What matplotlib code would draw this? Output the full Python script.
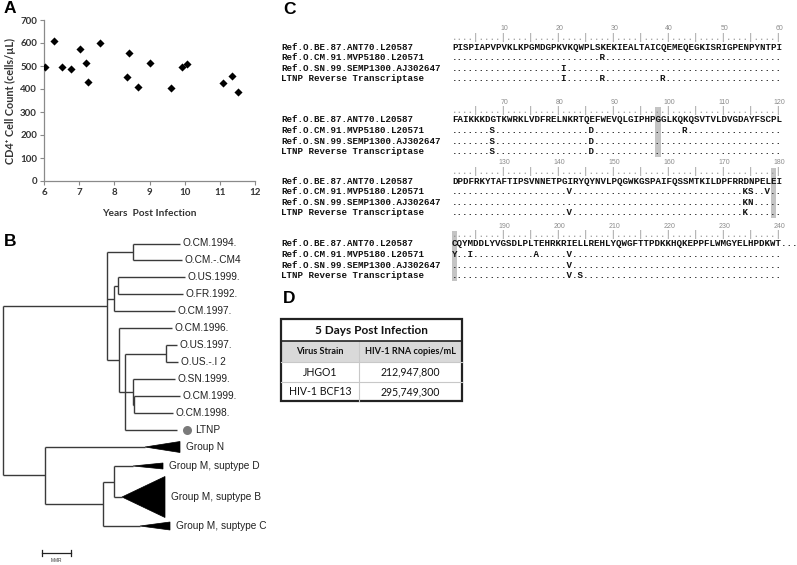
import matplotlib
matplotlib.use("Agg")
import matplotlib.pyplot as plt
from matplotlib.patches import Polygon, Rectangle

# ---------------- data ----------------
# Panel A
years = [6.03, 6.28, 6.52, 6.77, 7.02, 7.19, 7.24, 7.60, 8.35, 8.43, 8.68,
         9.01, 9.60, 9.92, 10.08, 11.08, 11.34, 11.51]
cd4 = [496, 610, 496, 487, 572, 513, 429, 600, 452, 555, 409,
       513, 404, 496, 507, 426, 455, 387]
x_ticks = [6, 7, 8, 9, 10, 11, 12]
y_ticks = [0, 100, 200, 300, 400, 500, 600, 700]

# Panel B: tree (node depths in branch-length units)
tree = ("n", 0, [
    ("n", 104, [
        ("n", 130, [("l", "O.CM.1994.", 177, 0), ("l", "O.CM.-.CM4", 179, 1)]),
        ("n", 111, [
            ("n", 115, [("l", "O.US.1999.", 182, 2), ("l", "O.FR.1992.", 180, 3)]),
            ("l", "O.CM.1997.", 172, 4)]),
        ("n", 116, [
            ("l", "O.CM.1996.", 169, 5),
            ("n", 122, [
                ("n", 163, [("l", "O.US.1997.", 174, 6), ("l", "O.US.-.I 2", 175, 7)]),
                ("n", 130, [("l", "O.SN.1999.", 172, 8),
                            ("n", 131, [("l", "O.CM.1999.", 177, 9),
                                        ("l", "O.CM.1998.", 170, 10)])]),
                ("l", "LTNP", 174, 11)])])]),
    ("n", 42, [
        ("c", "Group N", 142, 177, 447, 11),
        ("n", 100, [
            ("n", 111, [("c", "Group M, suptype D", 130, 160, 466, 6),
                        ("c", "Group M, suptype B", 119, 162, 497, 41)]),
            ("c", "Group M, suptype C", 137, 167, 526, 8)])])])
marked_leaves = {"LTNP": "#7a7a7a"}
scale_label = "MMR"

# Panel C: alignment
seq_names = ["Ref.O.BE.87.ANT70.L20587", "Ref.O.CM.91.MVP5180.L20571",
             "Ref.O.SN.99.SEMP1300.AJ302647", "LTNP Reverse Transcriptase"]
ref_blocks = ["PISPIAPVPVKLKPGMDGPKVKQWPLSKEKIEALTAICQEMEQEGKISRIGPENPYNTPI",
              "FAIKKKDGTKWRKLVDFRELNKRTQEFWEVQLGIPHPGGLKQKQSVTVLDVGDAYFSCPL",
              "DPDFRKYTAFTIPSVNNETPGIRYQYNVLPQGWKGSPAIFQSSMTKILDPFRRDNPELEI",
              "CQYMDDLYVGSDLPLTEHRKRIELLREHLYQWGFTTPDKKHQKEPPFLWMGYELHPDKWT"]
variants = [
    {28: "R", 68: "S", 86: "D", 103: "R", 142: "V", 174: "K", 175: "S", 178: "V",
     181: "Y", 184: "I", 196: "A", 202: "V"},
    {21: "I", 68: "S", 86: "D", 174: "K", 175: "N", 202: "V"},
    {21: "I", 28: "R", 39: "R", 68: "S", 86: "D", 142: "V", 174: "K", 202: "V", 204: "S"},
]
highlight_pos = [98, 179, 181]

# Panel D: table
table_title = "5 Days Post Infection"
table_header = ["Virus Strain", "HIV-1 RNA copies/mL"]
table_rows = [["JHGO1", "212,947,800"], ["HIV-1 BCF13", "295,749,300"]]

# ---------------- figure ----------------
W, H = 797, 565
plt.rcParams['font.family'] = ['Lato', 'DejaVu Sans']
fig = plt.figure(figsize=(W / 100, H / 100), dpi=100)

# Panel A
axA = fig.add_axes([44 / W, 1 - 181 / H, (255 - 44) / W, (181 - 20) / H])
axA.scatter(years, cd4, marker='D', s=17, c='black', zorder=3, linewidths=0)
axA.set_xlim(6, 12)
axA.set_ylim(0, 700)
axA.set_xticks(x_ticks, [str(v) for v in x_ticks], fontweight='bold')
axA.set_yticks(y_ticks, [str(v) for v in y_ticks], fontweight='bold')
for s in ['top', 'right']:
    axA.spines[s].set_visible(False)
for s in ['left', 'bottom']:
    axA.spines[s].set_color('#8a8a8a')
    axA.spines[s].set_linewidth(0.9)
axA.tick_params(direction='out', length=3, width=0.8, color='#8a8a8a',
                labelsize=7, labelcolor='#333333', pad=2)
axA.set_xlabel("Years  Post Infection", fontsize=7.3, fontweight='bold',
               color='#333333', labelpad=9)
axA.set_ylabel("CD4\u207a Cell Count (cells/\u00b5L)", fontsize=7.8,
               fontweight='bold', color='#333333', labelpad=3)

# overlay axes in pixel coordinates
ov = fig.add_axes([0, 0, 1, 1])
ov.set_xlim(0, W)
ov.set_ylim(H, 0)
ov.axis('off')
ov.patch.set_visible(False)

lab_kw = dict(fontsize=12.5, fontweight='bold', family='Liberation Sans',
              va='top', ha='left', color='black')
ov.text(4, 1, "A", **lab_kw)
ov.text(4, 234, "B", **lab_kw)
ov.text(283, 2, "C", **lab_kw)
ov.text(283, 291, "D", **lab_kw)

# Panel B tree
X0 = 3
LEAF_Y0 = 243.5
LEAF_DY = 16.95
tcol = '#3a3a3a'
lkw = dict(color=tcol, lw=1.0, solid_capstyle='butt')
txt_kw = dict(fontsize=7.3, family='Liberation Sans', color='#222222', va='center', ha='left')


def draw_child(ch, px):
    kind = ch[0]
    if kind == 'l':
        _, name, tip, idx = ch
        y = LEAF_Y0 + idx * LEAF_DY
        ov.plot([px, X0 + tip], [y, y], **lkw)
        if name in marked_leaves:
            ov.plot([X0 + tip + 10], [y], marker='o', ms=6.5, color=marked_leaves[name],
                    mec='none')
            ov.text(X0 + tip + 18, y, name, **txt_kw)
        else:
            ov.text(X0 + tip + 3, y, name, **txt_kw)
        return y
    if kind == 'n':
        y = draw(ch)
        ov.plot([px, X0 + ch[1]], [y, y], **lkw)
        return y
    _, name, apex, end, yc, hh = ch
    ov.plot([px, X0 + apex], [yc, yc], **lkw)
    ov.add_patch(Polygon([[X0 + apex, yc], [X0 + end, yc - hh / 2], [X0 + end, yc + hh / 2]],
                         closed=True, fc='black', ec='black', lw=0.5))
    ov.text(X0 + end + 6, yc, name, **txt_kw)
    return yc


def draw(node):
    _, d, children = node
    x = X0 + d
    ys = [draw_child(ch, x) for ch in children]
    ov.plot([x, x], [min(ys), max(ys)], **lkw)
    return (min(ys) + max(ys)) / 2


draw(tree)
# scale bar
ov.plot([42, 71], [553, 553], color='#222222', lw=0.9)
ov.plot([42, 42], [550, 556], color='#222222', lw=0.9)
ov.plot([71, 71], [550, 556], color='#222222', lw=0.9)
ov.text(56.5, 561, scale_label, fontsize=3.5, ha='center', va='center',
        family='Liberation Sans', color='#333333')

# Panel C alignment
CH = 5.5
SEQ_X = 452
NAME_X = 281
row1_y = [47, 120, 181, 244]
ROW_DY = 10.6
mono_kw = dict(family='Liberation Mono', fontsize=6.6, fontweight='bold',
               va='center', ha='left', color='#111111')
ruler = ''.join('|' if (i + 1) % 5 == 0 else '.' for i in range(60))
for b, ref in enumerate(ref_blocks):
    start = b * 60 + 1
    ry = row1_y[b]
    ruler_y = ry - 9.5
    num_y = ry - 18
    for pos in highlight_pos:
        if start <= pos < start + 60:
            col = pos - start
            ov.add_patch(Rectangle((SEQ_X + col * CH, ruler_y - 4), CH,
                                   (ry + 3 * ROW_DY + 5) - (ruler_y - 4),
                                   fc='#c4c4c4', ec='none', zorder=0))
    ov.text(SEQ_X, ruler_y, ruler, family='Liberation Mono', fontsize=6.6,
            va='center', ha='left', color='#8c8c8c')
    for p in range(start + 9, start + 60, 10):
        ov.text(SEQ_X + (p - start + 0.5) * CH, num_y, str(p), fontsize=5,
                family='Liberation Sans', ha='center', va='center', color='#8c8c8c')
    for r, name in enumerate(seq_names):
        y = ry + r * ROW_DY
        ov.text(NAME_X, y, name, **mono_kw)
        if r == 0:
            s = ref + ("..." if b == len(ref_blocks) - 1 else "")
        else:
            v = variants[r - 1]
            s = ''.join(v.get(start + i, '.') for i in range(len(ref)))
        ov.text(SEQ_X, y, s, **mono_kw)

# Panel D table
TX0, TX1, TXM = 281, 462, 359
TY = [319, 341, 362, 382, 401]
ov.add_patch(Rectangle((TX0, TY[1]), TX1 - TX0, TY[2] - TY[1], fc='#d9d9d9', ec='none'))
for yy in TY[2:4]:
    ov.plot([TX0, TX1], [yy, yy], color='#c8c8c8', lw=0.8)
ov.plot([TXM, TXM], [TY[1], TY[4]], color='#c8c8c8', lw=0.8)
ov.plot([TX0, TX1], [TY[1], TY[1]], color='#222222', lw=1.2)
ov.add_patch(Rectangle((TX0, TY[0]), TX1 - TX0, TY[4] - TY[0], fc='none',
                       ec='#222222', lw=1.6))
ov.text((TX0 + TX1) / 2, (TY[0] + TY[1]) / 2, table_title, fontsize=8.5,
        fontweight='bold', ha='center', va='center', color='#111111')
cx = [(TX0 + TXM) / 2, (TXM + TX1) / 2]
for j, h in enumerate(table_header):
    ov.text(cx[j], (TY[1] + TY[2]) / 2, h, fontsize=6.6, fontweight='bold',
            ha='center', va='center', color='#111111')
for i, row in enumerate(table_rows):
    for j, val in enumerate(row):
        ov.text(cx[j], (TY[2 + i] + TY[3 + i]) / 2, val, fontsize=7.6,
                ha='center', va='center', color='#111111')

fig.savefig("out.png", dpi=100)
